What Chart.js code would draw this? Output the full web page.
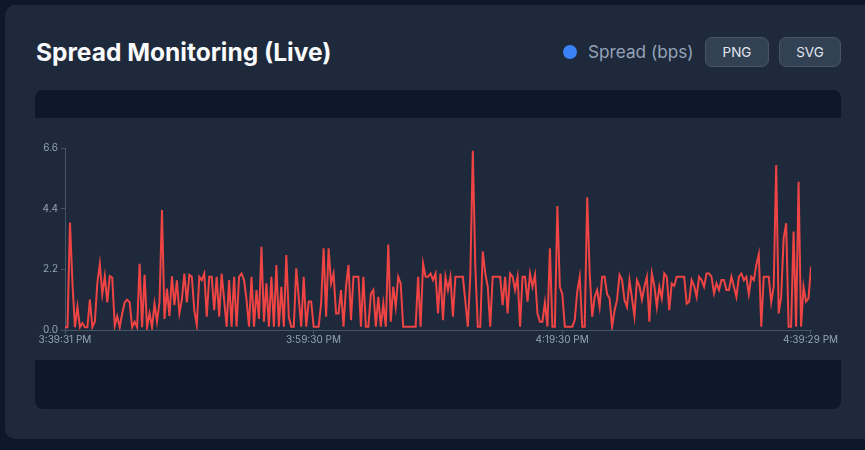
<!DOCTYPE html>
<html>
<head>
<meta charset="utf-8">
<title>Spread Monitoring (Live)</title>
<script src="https://cdn.jsdelivr.net/npm/chart.js@4.4.0/dist/chart.umd.min.js"></script>
<style>
    html, body { margin: 0; padding: 0; }
    body {
        width: 865px;
        height: 450px;
        overflow: hidden;
        background: #0f172a;
        font-family: Inter, "Noto Sans", sans-serif;
        position: relative;
    }
    .card {
        position: absolute;
        left: 5px;
        top: 5px;
        width: 900px;
        height: 434px;
        background: #1e293b;
        border-radius: 10px;
    }
    .title {
        position: absolute;
        left: 36px;
        top: 37px;
        margin: 0;
        font-size: 24.5px;
        line-height: 30px;
        font-weight: 700;
        color: #f8fafc;
        white-space: nowrap;
    }
    .legend-dot {
        position: absolute;
        left: 563px;
        top: 45px;
        width: 14px;
        height: 14px;
        border-radius: 50%;
        background: #3b82f6;
    }
    .legend-text {
        position: absolute;
        left: 588px;
        top: 40px;
        font-size: 17.2px;
        line-height: 24px;
        color: #94a3b8;
        white-space: nowrap;
    }
    .btn {
        position: absolute;
        top: 37px;
        height: 30px;
        box-sizing: border-box;
        background: #334155;
        border: 1px solid #475569;
        border-radius: 7px;
        color: #e2e8f0;
        font-size: 13.5px;
        line-height: 28px;
        text-align: center;
    }
    .chart-frame {
        position: absolute;
        left: 35px;
        top: 90px;
        width: 806px;
        height: 319px;
        background: #0f172a;
        border-radius: 8px;
    }
    .chart-box {
        position: absolute;
        left: 35px;
        top: 118px;
        width: 806px;
        height: 242px;
        background: #1e293b;
    }
</style>
</head>
<body>
<div class="card"></div>
<h2 class="title">Spread Monitoring (Live)</h2>
<div class="legend-dot"></div>
<div class="legend-text">Spread (bps)</div>
<div class="btn" style="left:705px;width:64px;">PNG</div>
<div class="btn" style="left:779px;width:62px;">SVG</div>
<div class="chart-frame"></div>
<div class="chart-box"><canvas id="spread-chart"></canvas></div>

<script>
// seconds between samples, starting at 3:39:31 PM
const SAMPLE_SECONDS = 12;

const spreadBps = [
    0.1, 0.1, 3.9, 1.7, 0.1, 0.85, 0.1, 0.25, 0.1, 0.1,
    1.1, 0.1, 0.3, 1.7, 2.4, 1.3, 1.95, 1.0, 1.95, 1.9,
    0.15, 0.5, 0.1, 0.6, 1.0, 1.1, 1.0, 0.1, 0.3, 0.1,
    2.4, 0.1, 2.0, 0.1, 0.6, 0.1, 0.95, 0.3, 1.0, 4.35,
    0.4, 1.5, 0.5, 1.95, 0.9, 1.8, 0.6, 1.1, 2.05, 1.0,
    2.0,
    1.93, 0.7, 0.18, 1.93, 1.81, 2.05, 0.48, 1.93, 1.93, 0.72,
    1.93, 0.48, 2.05, 1.09, 0.12, 1.81, 0.12, 1.93, 0.12, 1.93,
    2.05, 1.81, 1.09, 0.12, 1.93, 0.12, 1.45, 0.4, 3.02, 0.3,
    1.69, 0.12, 1.93, 0.12, 2.36, 0.12, 1.57, 0.12, 2.72, 0.48,
    0.12, 0.12, 2.24, 1.15, 0.12, 1.93, 0.12, 1.03, 1.03, 0.12,
    0.12,
    0.12, 0.96, 2.96, 0.48, 2.96, 1.69, 2.05, 0.6, 0.6, 1.45,
    0.12, 1.57, 2.36, 0.36, 1.93, 1.93, 1.93, 0.12, 1.93, 0.12,
    0.12, 1.3, 1.45, 0.12, 1.2, 0.12, 0.96, 0.12, 3.1, 0.3,
    1.57, 0.84, 1.93, 1.69, 0.12, 0.12, 0.12, 0.12, 0.12, 0.12,
    1.93, 0.12, 2.4, 1.93, 1.93, 2.05, 1.81, 2.05, 0.6, 2.05,
    0.36, 1.93, 1.45, 1.93, 0.48, 1.93, 1.93, 1.93, 1.93, 1.03,
    0.12, 2.0, 6.5, 2.3, 0.12, 0.12, 2.85, 2.05, 1.57, 0.12,
    1.93, 1.93, 1.93, 1.93, 0.9, 1.93, 0.6, 2.05, 1.93, 1.45,
    1.93, 0.12, 1.93, 1.93, 1.03, 2.05, 1.57, 2.0, 0.6, 0.3,
    0.3, 1.0, 0.12, 2.96, 0.12, 0.12, 4.5, 1.57, 1.3, 0.12,
    0.12, 0.12, 0.12, 0.36, 1.4, 1.93, 0.12, 0.12, 4.81, 2.05,
    0.48, 1.2, 1.45, 0.84, 1.93, 1.93, 1.3, 1.15, 0.12, 0.7,
    1.09, 2.0, 1.81, 1.09, 0.84, 1.81, 1.15, 0.5, 1.81, 1.6,
    1.1, 1.57, 1.93, 0.3, 2.05, 1.6, 0.84, 1.57, 1.15, 2.05,
    1.93, 0.72, 1.69, 1.6, 1.93, 1.93, 1.93, 1.93, 0.96, 1.03,
    1.81, 1.6, 1.2, 1.93, 1.81, 1.57, 2.05, 2.05, 1.93, 1.33,
    1.69, 1.45, 1.81, 1.81, 1.45, 1.45, 1.93, 1.57, 1.2, 1.93,
    2.05, 1.81, 1.93, 1.3, 1.93, 1.81, 2.36, 2.75, 0.12, 1.93,
    1.93, 1.93, 1.0, 1.57, 5.98, 0.6, 1.2, 3.32, 3.87, 0.12,
    0.12, 3.57, 0.12, 5.38, 0.12, 1.57, 1.03, 1.15, 2.3
];

const yTicks = [0, 2.2, 4.4, 6.6];
const xTickSeconds = [0, 1199, 2399, 3598];
const xTickLabels = ["3:39:31 PM", "3:59:30 PM", "4:19:30 PM", "4:39:29 PM"];

const axisColor = "#475569";
const tickColor = "#94a3b8";

Chart.defaults.font.family = "Inter, 'Noto Sans', sans-serif";

const ctx = document.getElementById("spread-chart").getContext("2d");

new Chart(ctx, {
    type: "line",
    data: {
        datasets: [{
            label: "Spread (bps)",
            data: spreadBps.map((v, i) => ({ x: i * SAMPLE_SECONDS, y: v })),
            borderColor: "#ef4444",
            borderWidth: 2,
            pointRadius: 0,
            tension: 0,
            fill: false
        }]
    },
    options: {
        responsive: true,
        maintainAspectRatio: false,
        animation: false,
        layout: { padding: { left: 0, right: 30, top: 30, bottom: 0 } },
        plugins: { legend: { display: false }, tooltip: { enabled: false } },
        scales: {
            x: {
                type: "linear",
                min: 0,
                max: spreadBps.length * SAMPLE_SECONDS - SAMPLE_SECONDS,
                afterBuildTicks: scale => { scale.ticks = xTickSeconds.map(v => ({ value: v })); },
                afterFit: scale => { scale.height = 30; },
                ticks: {
                    callback: (v, i) => xTickLabels[i],
                    color: tickColor,
                    font: { size: 10 },
                    maxRotation: 0,
                    autoSkip: false,
                    padding: 0
                },
                grid: { drawOnChartArea: false, tickLength: 4, color: axisColor },
                border: { color: axisColor }
            },
            y: {
                min: 0,
                max: 6.6,
                afterBuildTicks: scale => { scale.ticks = yTicks.map(v => ({ value: v })); },
                afterFit: scale => { scale.width = 30; },
                ticks: {
                    callback: v => Number(v).toFixed(1),
                    color: tickColor,
                    font: { size: 10 },
                    padding: 3
                },
                grid: { drawOnChartArea: false, tickLength: 4, color: axisColor },
                border: { color: axisColor }
            }
        }
    }
});
</script>
</body>
</html>
